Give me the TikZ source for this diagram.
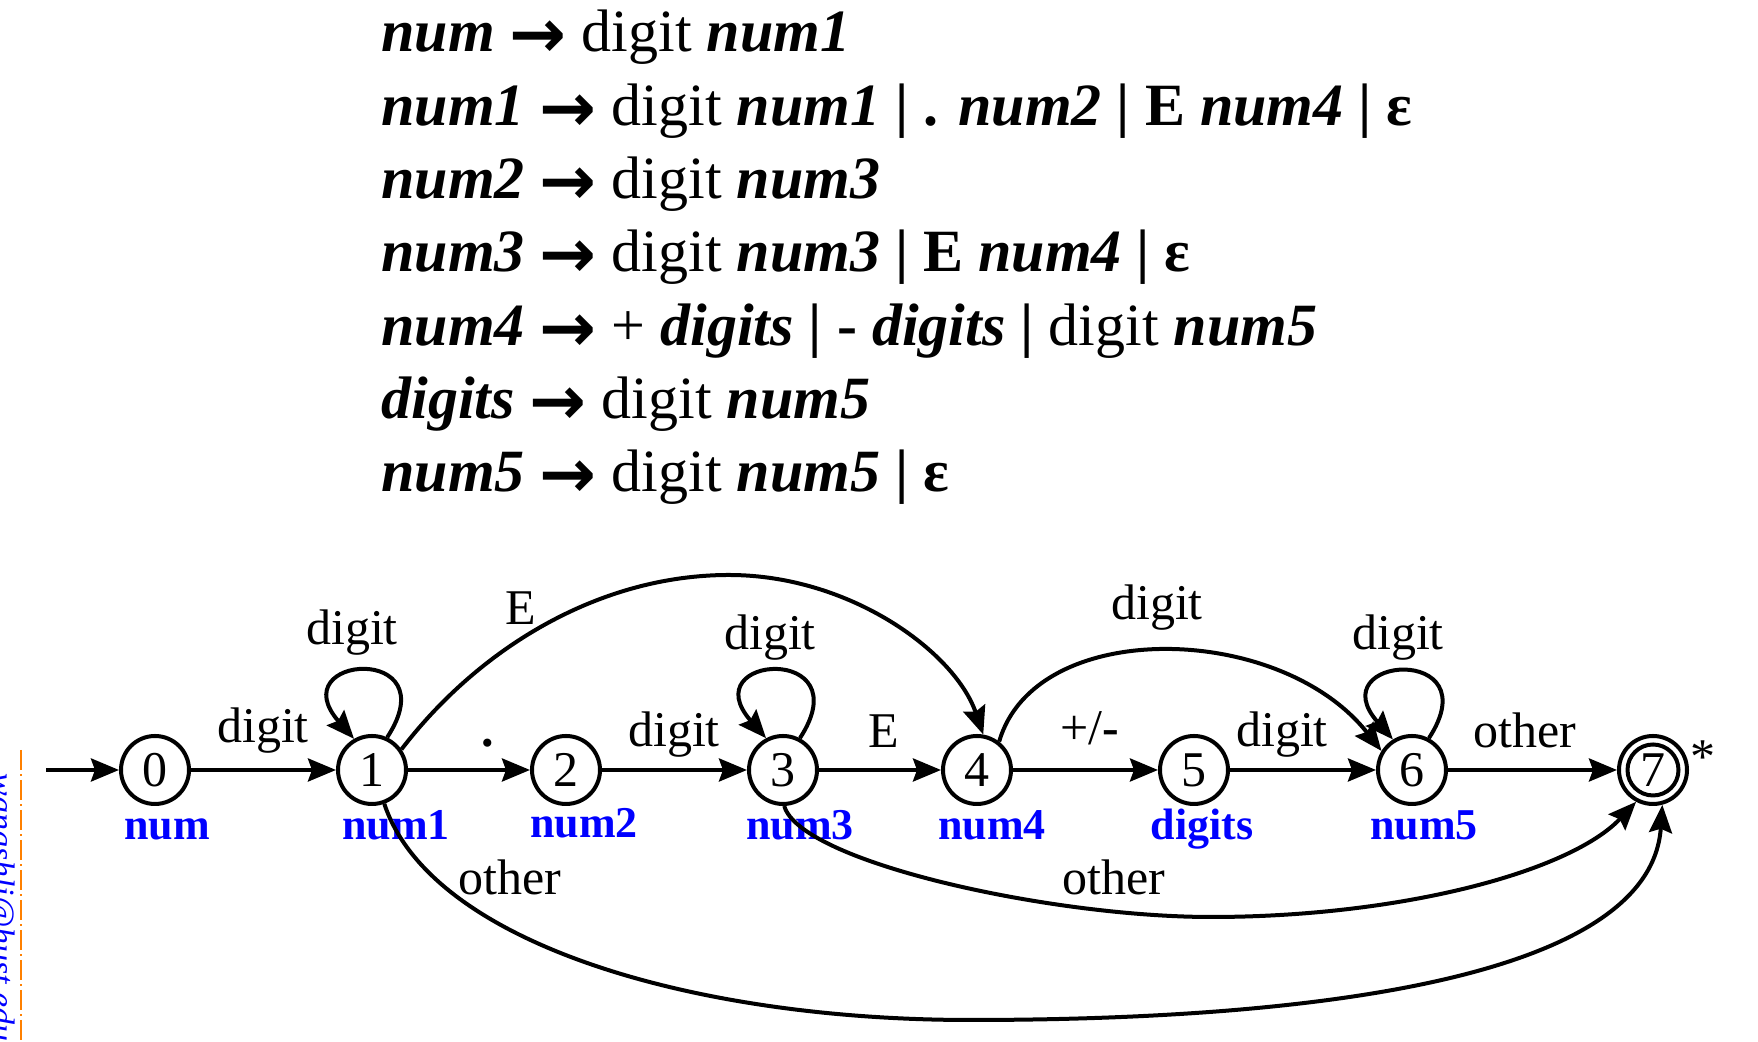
\documentclass[tikz,border=0pt]{standalone}
\usepackage{fontspec}
\setmainfont{Liberation Serif}
\newfontfamily\arrowfont{DejaVu Sans}
\usetikzlibrary{arrows.meta}
\newcommand\nterm[1]{\textbf{\textit{#1}}}
\newcommand\gar{\raisebox{-3pt}{\arrowfont\bfseries\fontsize{34pt}{34pt}\selectfont →}}
\definecolor{dashorange}{RGB}{255,128,0}
\begin{document}
\begin{tikzpicture}[x=0.5pt,y=0.5pt,
  state/.style={circle,draw,line width=2pt,minimum size=34pt,inner sep=0pt,font=\fontsize{25pt}{25pt}\selectfont},
  trans/.style={line width=2pt,-{Stealth[length=14pt,width=11.5pt,inset=2pt]}},
  lab/.style={anchor=base,font=\fontsize{25pt}{25pt}\selectfont,inner sep=0pt},
  blab/.style={anchor=base,font=\fontsize{22pt}{22pt}\selectfont\bfseries,text=blue,inner sep=0pt},
  gram/.style={anchor=base west,font=\fontsize{30pt}{30pt}\selectfont,inner sep=0pt},
]
\useasboundingbox (0,0) rectangle (1758,1042);

% grammar
\node[gram] (g1) at (381,990) {\nterm{num} \gar{} digit \nterm{num1}};
\node[gram] (g2) at (381,916.7) {\nterm{num1} \gar{} digit \nterm{num1} \textbf{|} \textbf{.} \nterm{num2} \textbf{|} \textbf{E} \nterm{num4} \textbf{|} \textbf{ε}};
\node[gram] (g3) at (381,843.4) {\nterm{num2} \gar{} digit \nterm{num3}};
\node[gram] (g4) at (381,770.1) {\nterm{num3} \gar{} digit \nterm{num3} \textbf{|} \textbf{E} \nterm{num4} \textbf{|} \textbf{ε}};
\node[gram] (g5) at (381,696.8) {\nterm{num4} \gar{} + \nterm{digits} \textbf{|} \textbf{-} \nterm{digits} \textbf{|} digit \nterm{num5}};
\node[gram] (g6) at (381,623.5) {\nterm{digits} \gar{} digit \nterm{num5}};
\node[gram] (g7) at (381,550.2) {\nterm{num5} \gar{} digit \nterm{num5} \textbf{|} \textbf{ε}};

% left margin
\draw[dashorange,line width=0.7pt,dash pattern=on 10pt off 2pt on 1pt off 2pt] (21,292) -- (21,0);
\begin{scope}
\clip (0,0) rectangle (1758,1042);
\node[rotate=-90,anchor=base west,text=blue,inner sep=0pt,font=\fontsize{17pt}{17pt}\selectfont\itshape] (mail) at (-8,269) {wangshli@hust.edu.cn};
\end{scope}

% states
\node[state] (q0) at (155,272) {0};
\node[state] (q1) at (372,272) {1};
\node[state] (q2) at (566,272) {2};
\node[state] (q3) at (783,272) {3};
\node[state] (q4) at (977,272) {4};
\node[state] (q5) at (1194,272) {5};
\node[state] (q6) at (1412,272) {6};
\node[state,path picture={\draw[line width=2pt] (path picture bounding box.center) circle[radius=12.75pt];}] (q7) at (1653,272) {7};
\node[lab] (star) at (1703,268) {*};

% blue labels
\node[blab] (n0) at (167,202) {num};
\node[blab] (n1) at (396,202) {num1};
\node[blab] (n2) at (584,204) {num2};
\node[blab] (n3) at (800,202) {num3};
\node[blab] (n4) at (992,202) {num4};
\node[blab] (n5) at (1202,202) {digits};
\node[blab] (n6) at (1424,202) {num5};

% edge labels
\node[lab] (l01) at (263,299) {digit};
\node[lab] (l11) at (352,397) {digit};
\node[lab] (l14) at (521,417) {E};
\node[lab] (l12) at (488,295) {\textbf{.}};
\node[lab] (l23) at (674,295) {digit};
\node[lab] (l33) at (770,392) {digit};
\node[lab] (l34) at (884,294) {E};
\node[lab] (l45) at (1090,297) {+/\textbf{-}};
\node[lab] (l46) at (1157,422) {digit};
\node[lab] (l56) at (1282,295) {digit};
\node[lab] (l66) at (1398,392) {digit};
\node[lab] (l67) at (1525,294) {other};
\node[lab] (l37) at (1114,147) {other};
\node[lab] (l17) at (510,147) {other};

% edges
\coordinate (init) at (46,272);
\draw[trans] (init) -- (q0);
\draw[trans] (q0) -- (q1);
\draw[trans] (q1) -- (q2);
\draw[trans] (q2) -- (q3);
\draw[trans] (q3) -- (q4);
\draw[trans] (q4) -- (q5);
\draw[trans] (q5) -- (q6);
\draw[trans] (q6) -- (q7);
\draw[trans] (q1.65) .. controls +(62,95) and +(-74,84) .. (q1.120);
\draw[trans] (q3.62) .. controls +(62,95) and +(-74,84) .. (q3.118);
\draw[trans] (q6.62) .. controls +(62,95) and +(-74,84) .. (q6.122);
\draw[trans] (q1.35) .. controls (480,395) and (600,467) .. (729,467) .. controls (850,467) and (955,390) .. (q4.80);
\draw[trans] (q4.52) .. controls (1035,425) and (1280,420) .. (q6.148);
\draw[trans] (q3.-88) .. controls (800,180) and (1050,125) .. (1211,125) .. controls (1400,125) and (1570,170) .. (q7.-118);
\draw[trans] (q1.-70) .. controls (430,100) and (690,22) .. (970,22) .. controls (1250,22) and (1650,50) .. (q7.-75);
\end{tikzpicture}
\end{document}
